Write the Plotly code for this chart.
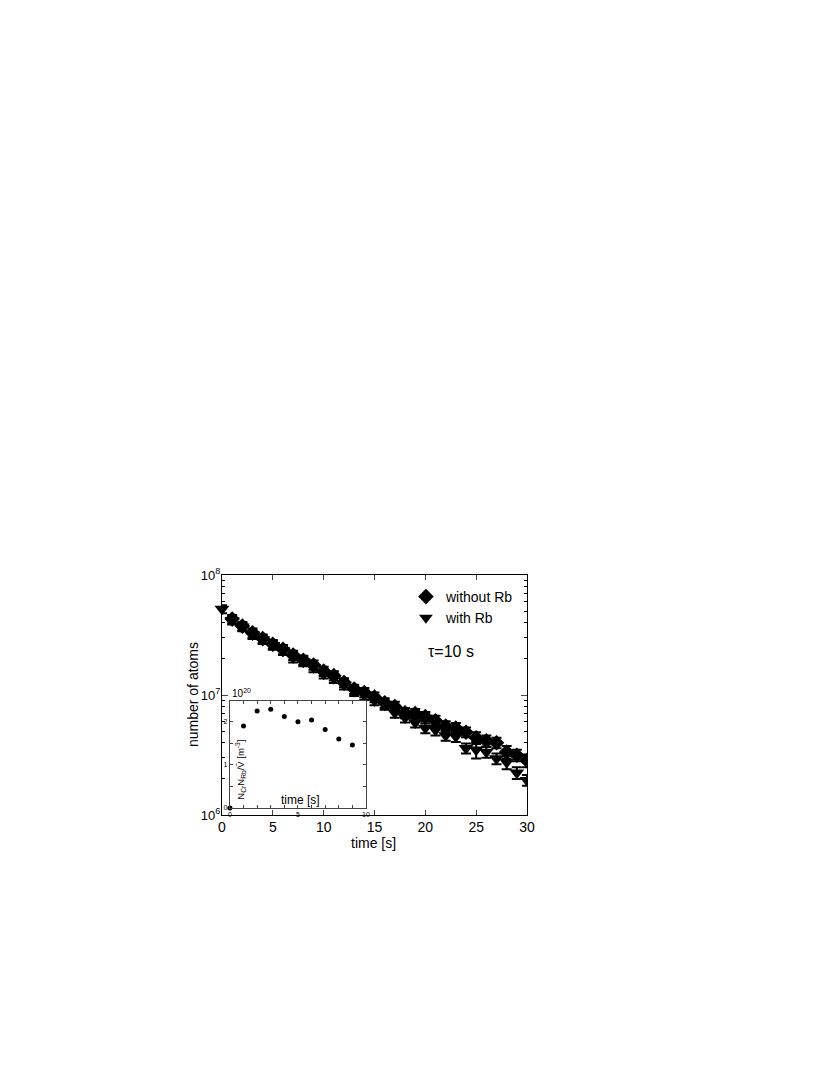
import plotly.graph_objects as go

# main panel: atom number vs time
time_s = list(range(0, 31))
n_without_rb = [None, 4.3e7, 3.75e7, 3.3e7, 2.95e7, 2.65e7, 2.4e7, 2.15e7, 1.95e7, 1.78e7,
                1.58e7, 1.45e7, 1.27e7, 1.12e7, 1.05e7, 9.6e6, 8.6e6, 8.0e6, 7.1e6, 7.0e6,
                6.6e6, 6.1e6, 5.5e6, 5.3e6, 4.9e6, 4.4e6, 4.15e6, 4.0e6, 3.35e6, 3.15e6, 2.85e6]
err_without_rb = [0, 3.5e6, 3.0e6, 2.8e6, 2.5e6, 2.2e6, 2.1e6, 1.9e6, 1.7e6, 1.6e6,
                  1.4e6, 1.3e6, 1.1e6, 1.0e6, 0.95e6, 0.9e6, 0.8e6, 0.8e6, 0.7e6, 0.65e6,
                  0.6e6, 0.6e6, 0.55e6, 0.55e6, 0.45e6, 0.5e6, 0.45e6, 0.4e6, 0.4e6, 0.35e6, 0.35e6]
n_with_rb = [5.2e7, 4.2e7, 3.7e7, 3.2e7, 2.9e7, 2.6e7, 2.35e7, 2.05e7, 1.9e7, 1.7e7,
             1.5e7, 1.38e7, 1.22e7, 1.08e7, 1.0e7, 9.0e6, 8.3e6, 7.1e6, 6.5e6, 5.9e6,
             5.3e6, 5.1e6, 4.6e6, 4.5e6, 3.6e6, 3.5e6, 3.35e6, 2.95e6, 2.75e6, 2.25e6, 1.95e6]
err_with_rb = [4.0e6, 3.4e6, 3.0e6, 2.7e6, 2.4e6, 2.2e6, 2.0e6, 1.8e6, 1.6e6, 1.5e6,
               1.3e6, 1.2e6, 1.1e6, 1.0e6, 0.9e6, 0.8e6, 0.75e6, 0.65e6, 0.6e6, 0.55e6,
               0.5e6, 0.5e6, 0.45e6, 0.45e6, 0.35e6, 0.55e6, 0.35e6, 0.3e6, 0.35e6, 0.25e6, 0.2e6]

# inset: N_Cr N_Rb / V (units of 1e20 m^-3)
inset_time = [0, 1, 2, 3, 4, 5, 6, 7, 8, 9]
inset_density = [0.0, 1.90, 2.25, 2.29, 2.12, 2.0, 2.04, 1.82, 1.60, 1.46]

FONT = "Liberation Sans, Arial, sans-serif"

fig = go.Figure()

series = [
    ("without Rb", n_without_rb, err_without_rb, "diamond", 12),
    ("with Rb", n_with_rb, err_with_rb, "triangle-down", 13),
]
for name, vals, errs, sym, size in series:
    # the t=0 point overhangs the left edge; the t=30 point is clipped at the right edge
    for sl, clip, show in [(slice(0, -1), False, True), (slice(-1, None), True, False)]:
        fig.add_trace(go.Scatter(
            x=time_s[sl], y=vals[sl],
            mode="markers",
            name=name,
            legendgroup=name,
            showlegend=show,
            cliponaxis=clip,
            marker=dict(symbol=sym, size=size, color="black"),
            error_y=dict(type="data", array=errs[sl], color="black", thickness=2, width=5),
            xaxis="x", yaxis="y",
        ))

fig.add_trace(go.Scatter(
    x=inset_time, y=inset_density,
    mode="markers",
    marker=dict(symbol="circle", size=5, color="black"),
    showlegend=False,
    cliponaxis=False,
    xaxis="x2", yaxis="y2",
))

decades = [1e6, 1e7, 1e8]
minor_vals = [m * d for d in [1e6, 1e7] for m in range(2, 10)]

fig.update_layout(
    width=830, height=1075,
    margin=dict(l=214, r=311, t=567, b=268),
    paper_bgcolor="white",
    plot_bgcolor="white",
    font=dict(family=FONT, color="black", size=14),
    xaxis=dict(
        domain=[0, 1], range=[0, 30], tickvals=[0, 5, 10, 15, 20, 25, 30],
        ticks="inside", ticklen=5, showline=True, linecolor="black", linewidth=1,
        mirror="ticks", showgrid=False, zeroline=False,
        tickfont=dict(size=14), ticklabelstandoff=-1,
    ),
    yaxis=dict(
        domain=[0, 1], type="log", range=[6, 8],
        tickvals=decades, ticktext=["10<sup>6</sup>", "10<sup>7</sup>", "10<sup>8</sup>"],
        ticks="inside", ticklen=6, showline=True, linecolor="black", linewidth=1,
        mirror="ticks", showgrid=False, zeroline=False,
        tickfont=dict(size=13), ticklabelstandoff=-2,
        minor=dict(tickvals=minor_vals, ticks="inside", ticklen=3, tickcolor="black", showgrid=False),
    ),
    xaxis2=dict(
        domain=[0.026, 0.472], anchor="y2", range=[0, 10],
        tickvals=[0, 5, 10],
        ticks="inside", ticklen=3, showline=True, linecolor="#444", linewidth=1,
        mirror="ticks", showgrid=False, zeroline=False,
        minor=dict(dtick=1, ticks="inside", ticklen=3, tickcolor="#444", showgrid=False),
        tickfont=dict(size=7), ticklabelstandoff=0,
    ),
    yaxis2=dict(
        domain=[0.029, 0.475], anchor="x2", range=[0, 2.48],
        tickvals=[0, 1, 2],
        ticks="inside", ticklen=3, showline=True, linecolor="#444", linewidth=1,
        mirror="ticks", showgrid=False, zeroline=False,
        minor=dict(dtick=0.5, ticks="inside", ticklen=3, tickcolor="#444", showgrid=False),
        tickfont=dict(size=7), ticklabelstandoff=0,
    ),
    legend=dict(
        x=0.603, y=0.975, xanchor="left", yanchor="top",
        bgcolor="rgba(0,0,0,0)", font=dict(size=14), tracegroupgap=0,
        itemsizing="constant",
    ),
    annotations=[
        dict(text="time [s]", x=0.496, y=-0.117, xref="paper", yref="paper",
             xanchor="center", yanchor="middle", showarrow=False, font=dict(size=14)),
        dict(text="number of atoms", x=-0.095, y=0.5, xref="paper", yref="paper",
             xanchor="center", yanchor="middle", textangle=-90, showarrow=False,
             font=dict(size=14)),
        dict(text="τ=10 s", x=0.669, y=0.683, xref="paper", yref="paper",
             xanchor="left", yanchor="middle", showarrow=False, font=dict(size=16)),
        dict(text="10<sup>20</sup>", x=0.0, y=1.0, xref="x2 domain", yref="y2 domain",
             xanchor="left", yanchor="bottom", showarrow=False, font=dict(size=10)),
        dict(text="N<sub>Cr</sub>N<sub>Rb</sub>/V̄ [m<sup>-3</sup>]", x=0.075, y=0.36,
             xref="x2 domain", yref="y2 domain", xanchor="center", yanchor="middle",
             textangle=-90, showarrow=False, font=dict(size=9.5)),
        dict(text="time [s]", x=0.52, y=0.075, xref="x2 domain", yref="y2 domain",
             xanchor="center", yanchor="middle", showarrow=False, font=dict(size=12)),
    ],
)

fig.write_html("out.html")
